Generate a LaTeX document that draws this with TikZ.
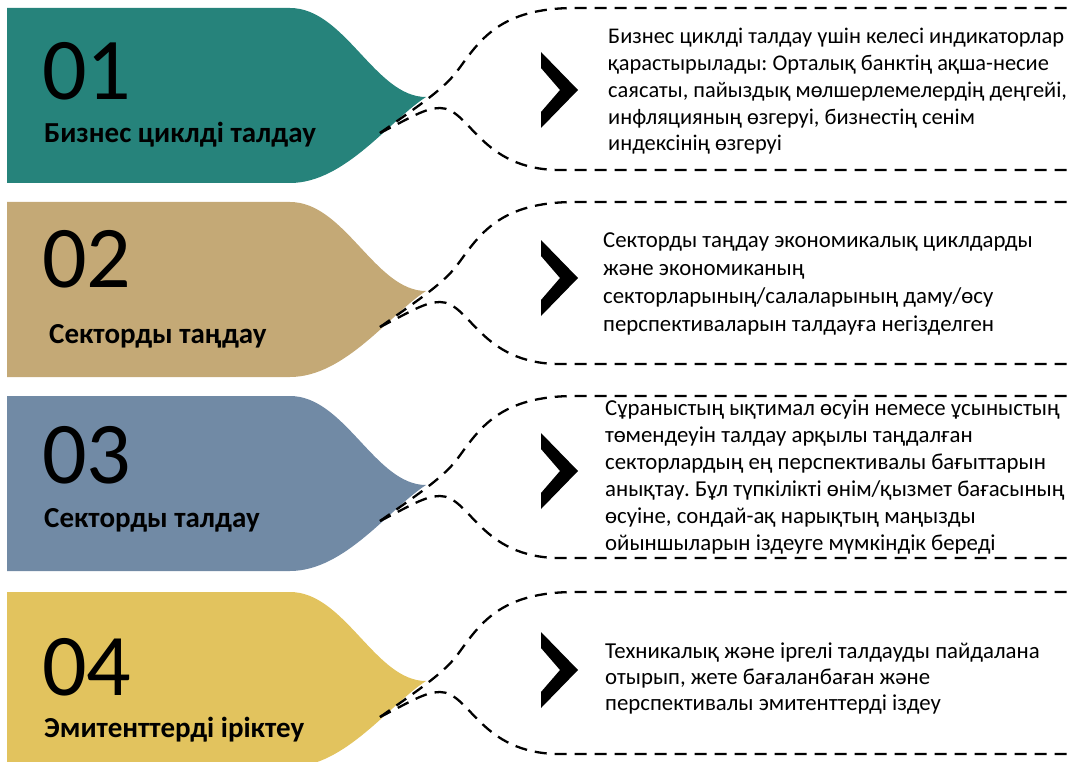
\documentclass[tikz,border=0pt]{standalone}
\usepackage{fontspec}
\setmainfont{Carlito}
\definecolor{tagteal}{RGB}{38,131,123}
\definecolor{tagtan}{RGB}{196,169,118}
\definecolor{tagslate}{RGB}{113,138,165}
\definecolor{taggold}{RGB}{226,195,94}

\begin{document}
\frenchspacing
\begin{tikzpicture}[x=1pt,y=-1pt,
  num/.style={anchor=base west,inner sep=0pt,font=\fontsize{88}{88}\selectfont},
  head/.style={anchor=base west,inner sep=0pt,font=\fontsize{29}{29}\selectfont\bfseries},
  desc/.style={anchor=base west,inner sep=0pt,align=left,font=\fontsize{22.8}{27}\selectfont},
  dashline/.style={line width=2.3pt,dash pattern=on 12pt off 8pt}]
\useasboundingbox (0,0) rectangle (1073,762);
% one tag and its open dashed loop, drawn from the tag top
\def\tagpath{(7,0) -- (290,0) .. controls (345,0) and (375,89) .. (426,89)
  .. controls (390,112) and (345,175) .. (290,175) -- (7,175) -- cycle}
\def\upcurve{(380,125) .. controls (420,97) and (445,80) .. (458,62)
  .. controls (480,32) and (500,0) .. (575,0) -- (1073,0)}
\def\lowcurve{(380,125) .. controls (410,110) and (425,100) .. (440,100)
  .. controls (470,100) and (480,162) .. (560,162) -- (1073,162)}
\def\chevron#1{\fill (541,#1-38) -- (578,#1) -- (541,#1+38) -- (541,#1+22)
  -- (560,#1) -- (541,#1-22) -- cycle;}

\begin{scope}[shift={(0,8)}]
\fill[tagteal] \tagpath;
\draw[dashline] \upcurve;
\draw[dashline] \lowcurve;
\end{scope}
\begin{scope}[shift={(0,202)}]
\fill[tagtan] \tagpath;
\draw[dashline] \upcurve;
\draw[dashline] \lowcurve;
\end{scope}
\begin{scope}[shift={(0,396)}]
\fill[tagslate] \tagpath;
\draw[dashline] \upcurve;
\draw[dashline] \lowcurve;
\end{scope}
\begin{scope}[shift={(0,592)}]
\fill[taggold] \tagpath;
\draw[dashline] \upcurve;
\draw[dashline] \lowcurve;
\end{scope}

\chevron{90}
\chevron{278}
\chevron{471}
\chevron{670}

\path
(42,100) node [num] (num1) {01}
(42,287) node [num] (num2) {02}
(42,483) node [num] (num3) {03}
(42,695) node [num] (num4) {04}
(44,143) node [head] (head1) {Бизнес циклді талдау}
(49,343) node [head] (head2) {Секторды таңдау}
(44,527) node [head] (head3) {Секторды талдау}
(44,737) node [head] (head4) {Эмитенттерді іріктеу}
;

% the base anchor sits on the last line
\node [desc,font=\fontsize{22.4}{26.8}\selectfont] (desc1) at (608,151) {Бизнес циклді талдау үшін келесі индикаторлар\\
  қарастырылады: Орталық банктің ақша-несие\\
  саясаты, пайыздық мөлшерлемелердің деңгейі,\\
  инфляцияның өзгеруі, бизнестің сенім\\
  индексінің өзгеруі};
\node [desc,font=\fontsize{22.8}{28}\selectfont] (desc2) at (603,331) {Секторды таңдау экономикалық циклдарды\\
  және экономиканың\\
  секторларының/салаларының даму/өсу\\
  перспективаларын талдауға негізделген};
\node [desc] (desc3) at (605,550) {Сұраныстың ықтимал өсуін немесе ұсыныстың\\
  төмендеуін талдау арқылы таңдалған\\
  секторлардың ең перспективалы бағыттарын\\
  анықтау. Бұл түпкілікті өнім/қызмет бағасының\\
  өсуіне, сондай-ақ нарықтың маңызды\\
  ойыншыларын іздеуге мүмкіндік береді};
\node [desc,font=\fontsize{22.8}{26}\selectfont] (desc4) at (605,710) {Техникалық және іргелі талдауды пайдалана\\
  отырып, жете бағаланбаған және\\
  перспективалы эмитенттерді іздеу};
\end{tikzpicture}
\end{document}
